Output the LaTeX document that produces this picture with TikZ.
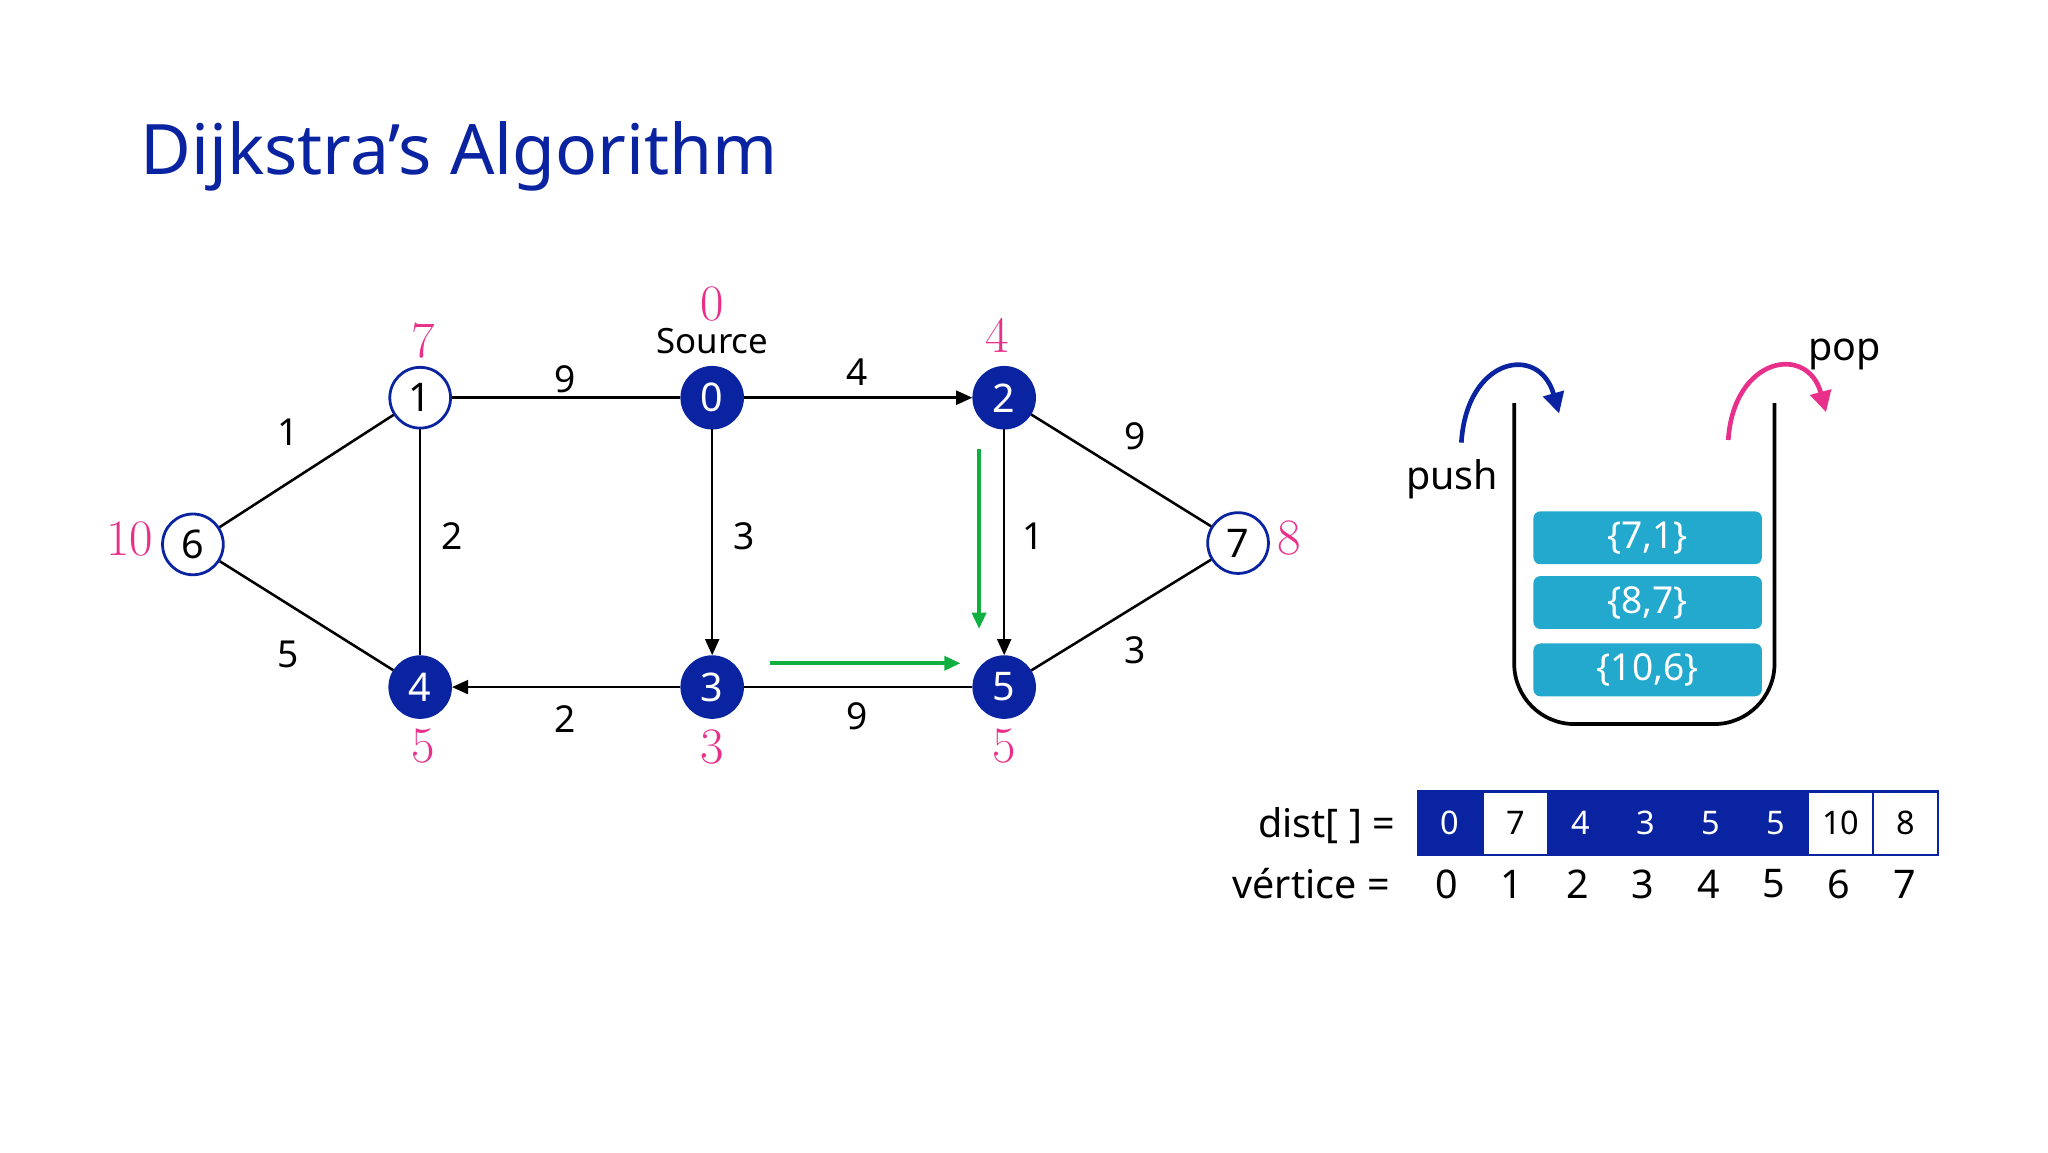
\documentclass[tikz,border=0pt]{standalone}
\usepackage{fontspec}
\setmainfont{Noto Sans}
\newfontfamily\pinkfont{Latin Modern Roman}
\usetikzlibrary{arrows.meta}
\definecolor{navy}{HTML}{0A23A0}
\definecolor{pinkc}{HTML}{E8308A}
\definecolor{teal}{HTML}{22A9CD}
\definecolor{grn}{HTML}{10B040}
\begin{document}
\begin{tikzpicture}[x=0.02cm,y=-0.02cm,
  vb/.style={circle,draw=navy,line width=1.2pt,minimum size=0.92cm,inner sep=0pt,font=\fontsize{17}{17}\selectfont},
  vw/.style={vb,fill=white,text=black},
  vf/.style={vb,fill=navy,text=white},
  ed/.style={line width=1.1pt},
  ea/.style={ed,-{Triangle[length=7pt,width=6pt]}},
  wl/.style={font=\fontsize{16}{16}\selectfont},
  pl/.style={text=pinkc,font=\pinkfont\fontsize{22}{22}\selectfont},
  ga/.style={draw=grn,line width=1.6pt,-{Triangle[length=7pt,width=6pt]}},
  qb/.style={fill=teal,rounded corners=3pt,minimum width=3.46cm,minimum height=0.8cm,text=white,font=\fontsize{16}{16}\selectfont},
  cell/.style={draw=navy,line width=1pt,minimum width=0.985cm,minimum height=0.96cm,inner sep=0pt,font=\bfseries\fontsize{14}{14}\selectfont},
  cb/.style={cell,fill=navy,text=white},
  cw/.style={cell,fill=white,text=black}]
\useasboundingbox (0,0) rectangle (1550,872);
\node[anchor=west,text=navy,font=\bfseries\fontsize{30}{30}\selectfont] (title) at (100,118) {Dijkstra's Algorithm};
\node[vf] (n0) at (539,301) {0};
\node[vw] (n1) at (318,301) {1};
\node[vf] (n2) at (760,301) {2};
\node[vw] (n6) at (146,412) {6};
\node[vw] (n7) at (937,411) {7};
\node[vf] (n4) at (318,520) {4};
\node[vf] (n3) at (539,520) {3};
\node[vf] (n5) at (760,520) {5};
\draw[ed] (n1) -- (n0); \draw[ea] (n0) -- (n2); \draw[ed] (n2) -- (n7);
\draw[ed] (n6) -- (n1); \draw[ed] (n1) -- (n4); \draw[ea] (n0) -- (n3);
\draw[ea] (n2) -- (n5); \draw[ed] (n7) -- (n5); \draw[ed] (n6) -- (n4);
\draw[ea] (n3) -- (n4); \draw[ed] (n3) -- (n5);
\node[wl] (w1) at (428,287) {9}; \node[wl] (w2) at (649,282) {4};
\node[wl] (w3) at (859,330) {9}; \node[wl] (w4) at (218,327) {1};
\node[wl] (w5) at (342,406) {2}; \node[wl] (w6) at (563,406) {3};
\node[wl] (w7) at (782,406) {1}; \node[wl] (w8) at (859,492) {3};
\node[wl] (w9) at (218,495) {5}; \node[wl] (w10) at (428,544) {2};
\node[wl] (w11) at (649,542) {9};
\coordinate (g1) at (741,340); \coordinate (g2) at (741,476);
\coordinate (g3) at (583,502); \coordinate (g4) at (727,502);
\draw[ga] (g1) -- (g2); \draw[ga] (g3) -- (g4);
\node[pl] (d0) at (539,230) {0};
\node[font=\fontsize{15}{15}\selectfont] (src) at (539,258) {Source};
\node[pl] (d1) at (320,258) {7}; \node[pl] (d2) at (755,254) {4};
\node[pl] (d6) at (98,408) {10}; \node[pl] (d7) at (976,407) {8};
\node[pl] (d4) at (320,565) {5}; \node[pl] (d3) at (539,565) {3};
\node[pl] (d5) at (760,565) {5};
% stack
\draw[line width=1.6pt,rounded corners=26pt] (1146,305) -- (1146,548) -- (1343,548) -- (1343,305);
\node[qb] (q1) at (1247,407) {\{7,1\}};
\node[qb] (q2) at (1247,456) {\{8,7\}};
\node[qb] (q3) at (1247,507) {\{10,6\}};
\draw[navy,line width=2pt,-{Triangle[length=9pt,width=9pt]}] (1106,335) .. controls (1110,270) and (1165,260) .. (1180,313);
\draw[pinkc,line width=2pt,-{Triangle[length=9pt,width=9pt]}] (1308,333) .. controls (1312,270) and (1368,260) .. (1382,312);
\node[font=\fontsize{17}{17}\selectfont] (push) at (1099,363) {push};
\node[font=\fontsize{17}{17}\selectfont] (pop) at (1396,268) {pop};
% dist
\foreach \i/\v/\s in {0/0/cb,1/7/cw,2/4/cb,3/3/cb,4/5/cb,5/5/cb,6/10/cw,7/8/cw}{
  \node[\s] (c\i) at (1097.6+\i*49.25,623) {\v};
  \node[font=\fontsize{17}{17}\selectfont] (v\i) at (1095+\i*49.5,669) {\i};
}
\node[anchor=east,font=\fontsize{17}{17}\selectfont] (dl) at (1062,625) {dist[ ] =};
\node[anchor=east,font=\fontsize{17}{17}\selectfont] (vl) at (1058,669) {vértice =};
\end{tikzpicture}
\end{document}
